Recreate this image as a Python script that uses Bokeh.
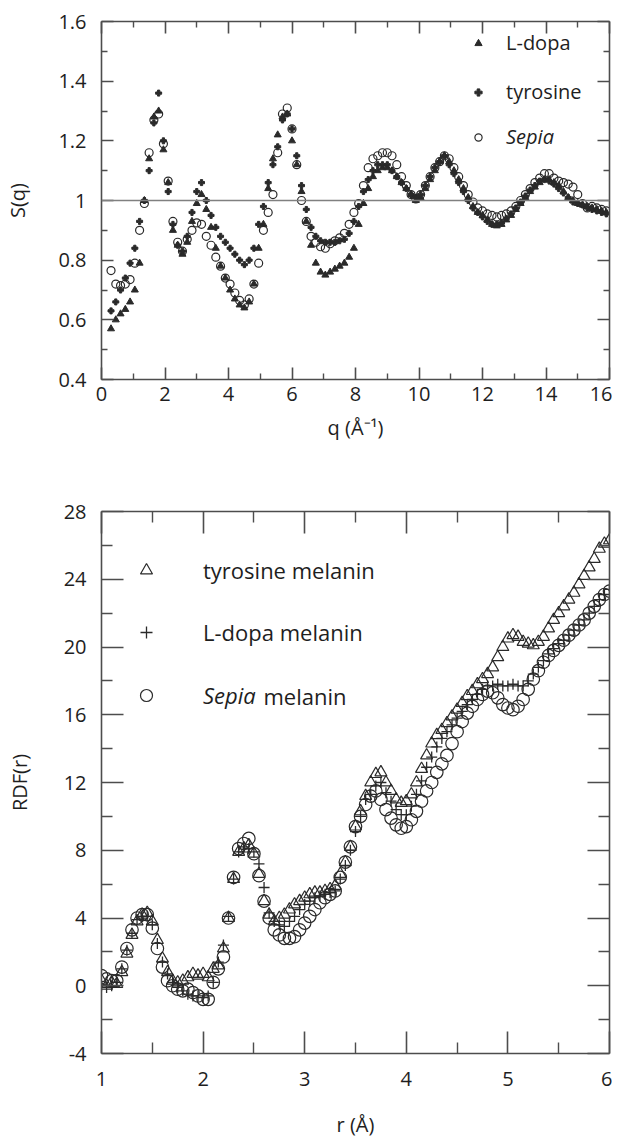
from bokeh.plotting import figure
from bokeh.models import (LinearAxis, FixedTicker, Span, Legend, LegendItem, Label,
                          Range1d, CustomJSTickFormatter)
from bokeh.layouts import column
from bokeh.embed import file_html
from bokeh.resources import INLINE

FONT = "Open Sans"
INK = "#2a2a2a"
AXC = "#4d4d4d"
TXT = "#1e1e1e"
FS = "20px"
FS_LEG2 = "22px"

# ---------------- top chart: structure factor S(q) ----------------
q = [0.30, 0.45, 0.60, 0.75, 0.90, 1.05, 1.20, 1.35, 1.50, 1.65,
     1.80, 1.95, 2.10, 2.25, 2.40, 2.55, 2.70, 2.85, 3.00, 3.15,
     3.30, 3.45, 3.60, 3.75, 3.90, 4.05, 4.20, 4.35, 4.50, 4.65,
     4.80, 4.95, 5.10, 5.25, 5.40, 5.55, 5.70, 5.85, 6.00, 6.15,
     6.30, 6.45, 6.60, 6.75, 6.90, 7.05, 7.20, 7.35, 7.50, 7.65,
     7.80, 7.95, 8.10, 8.25, 8.40, 8.55, 8.70, 8.85, 9.00, 9.15,
     9.30, 9.45, 9.60, 9.75, 9.90, 10.05, 10.20, 10.35, 10.50, 10.65,
     10.80, 10.95, 11.10, 11.25, 11.40, 11.55, 11.70, 11.85, 12.00, 12.15,
     12.30, 12.45, 12.60, 12.75, 12.90, 13.05, 13.20, 13.35, 13.50, 13.65,
     13.80, 13.95, 14.10, 14.25, 14.40, 14.55, 14.70, 14.85, 15.00, 15.15,
     15.30, 15.45, 15.60, 15.75, 15.90]

s_ldopa = [0.57, 0.60, 0.62, 0.635, 0.66, 0.70, 0.79, 1.00, 1.14, 1.28,
           1.30, 1.17, 1.06, 0.90, 0.85, 0.82, 0.86, 0.93, 0.99, 1.02,
           0.97, 0.91, 0.84, 0.78, 0.74, 0.70, 0.67, 0.65, 0.64, 0.66,
           0.72, 0.84, 0.92, 1.04, 1.14, 1.22, 1.28, 1.29, 1.20, 1.12,
           1.03, 0.93, 0.85, 0.79, 0.76, 0.75, 0.76, 0.77, 0.78, 0.79,
           0.81, 0.84, 0.92, 0.99, 1.04, 1.08, 1.10, 1.11, 1.11, 1.10,
           1.08, 1.06, 1.04, 1.02, 1.00, 1.01, 1.04, 1.07, 1.10, 1.13,
           1.15, 1.13, 1.10, 1.07, 1.04, 1.01, 0.98, 0.96, 0.95, 0.935,
           0.92, 0.915, 0.92, 0.935, 0.95, 0.97, 0.99, 1.01, 1.03, 1.045,
           1.06, 1.07, 1.07, 1.06, 1.05, 1.03, 1.01, 1.00, 0.99, 0.985,
           0.98, 0.975, 0.97, 0.965, 0.96]

s_tyrosine = [0.63, 0.66, 0.70, 0.74, 0.79, 0.84, 0.93, 1.00, 1.10, 1.26,
              1.36, 1.20, 1.03, 0.92, 0.85, 0.83, 0.88, 0.96, 1.03, 1.06,
              1.00, 0.95, 0.91, 0.88, 0.86, 0.84, 0.82, 0.80, 0.785, 0.80,
              0.84, 0.92, 0.98, 1.06, 1.12, 1.18, 1.27, 1.29, 1.24, 1.15,
              1.05, 0.97, 0.91, 0.88, 0.865, 0.86, 0.86, 0.86, 0.865, 0.87,
              0.89, 0.93, 0.98, 1.03, 1.07, 1.10, 1.12, 1.12, 1.12, 1.10,
              1.08, 1.06, 1.04, 1.02, 1.01, 1.02, 1.05, 1.08, 1.11, 1.13,
              1.15, 1.12, 1.09, 1.06, 1.03, 1.00, 0.975, 0.96, 0.945, 0.93,
              0.92, 0.92, 0.925, 0.94, 0.955, 0.975, 0.995, 1.015, 1.035, 1.05,
              1.065, 1.07, 1.065, 1.055, 1.04, 1.025, 1.01, 0.995, 0.99, 0.985,
              0.975, 0.97, 0.965, 0.96, 0.955]

s_sepia = [0.765, 0.72, 0.715, 0.72, 0.735, 0.79, 0.90, 0.99, 1.16, 1.27,
           1.29, 1.19, 1.065, 0.93, 0.86, 0.83, 0.87, 0.90, 0.925, 0.92,
           0.88, 0.85, 0.81, 0.78, 0.74, 0.72, 0.69, 0.665, 0.65, 0.67,
           0.72, 0.79, 0.90, 0.96, 1.02, 1.16, 1.29, 1.31, 1.24, 1.12,
           1.00, 0.93, 0.88, 0.86, 0.845, 0.84, 0.855, 0.865, 0.875, 0.89,
           0.92, 0.96, 0.99, 1.05, 1.11, 1.14, 1.15, 1.16, 1.16, 1.15,
           1.12, 1.08, 1.05, 1.02, 1.005, 1.02, 1.05, 1.08, 1.11, 1.13,
           1.15, 1.14, 1.11, 1.08, 1.05, 1.02, 0.995, 0.975, 0.965, 0.955,
           0.95, 0.945, 0.95, 0.955, 0.965, 0.98, 1.00, 1.02, 1.04, 1.06,
           1.075, 1.09, 1.09, 1.075, 1.065, 1.06, 1.055, 1.045, 1.02, 0.99,
           0.975, 0.98, 0.975, 0.97, 0.965]

q_ticks = [0, 2, 4, 6, 8, 10, 12, 14, 16]
q_minor = [1, 3, 5, 7, 9, 11, 13, 15]
s_ticks = [0.4, 0.6, 0.8, 1.0, 1.2, 1.4, 1.6]
s_minor = [0.5, 0.7, 0.9, 1.1, 1.3, 1.5]

# ---------------- bottom chart: radial distribution function ----------------
r = [1.00, 1.05, 1.10, 1.15, 1.20, 1.25, 1.30, 1.35, 1.40, 1.45,
     1.50, 1.55, 1.60, 1.65, 1.70, 1.75, 1.80, 1.85, 1.90, 1.95,
     2.00, 2.05, 2.10, 2.15, 2.20, 2.25, 2.30, 2.35, 2.40, 2.45,
     2.50, 2.55, 2.60, 2.65, 2.70, 2.75, 2.80, 2.85, 2.90, 2.95,
     3.00, 3.05, 3.10, 3.15, 3.20, 3.25, 3.30, 3.35, 3.40, 3.45,
     3.50, 3.55, 3.60, 3.65, 3.70, 3.75, 3.80, 3.85, 3.90, 3.95,
     4.00, 4.05, 4.10, 4.15, 4.20, 4.25, 4.30, 4.35, 4.40, 4.45,
     4.50, 4.55, 4.60, 4.65, 4.70, 4.75, 4.80, 4.85, 4.90, 4.95,
     5.00, 5.05, 5.10, 5.15, 5.20, 5.25, 5.30, 5.35, 5.40, 5.45,
     5.50, 5.55, 5.60, 5.65, 5.70, 5.75, 5.80, 5.85, 5.90, 5.95,
     6.00]

rdf_tyrosine = [0.3, 0.0, 0.2, 0.1, 0.8, 1.9, 3.0, 3.8, 4.2, 4.3,
                3.8, 2.7, 1.6, 0.8, 0.3, 0.2, 0.3, 0.5, 0.7, 0.6,
                0.7, 0.5, 1.0, 1.2, 2.2, 4.0, 6.3, 7.9, 8.1, 8.3,
                7.8, 6.6, 5.0, 4.2, 3.8, 4.0, 4.2, 4.5, 4.8, 5.0,
                5.2, 5.4, 5.5, 5.5, 5.6, 5.7, 5.9, 6.6, 7.3, 8.2,
                9.4, 10.3, 11.2, 12.0, 12.5, 12.6, 12.0, 11.5, 11.0, 10.8,
                10.9, 11.3, 12.0, 12.8, 13.6, 14.3, 14.8, 15.1, 15.5, 15.9,
                16.3, 16.7, 17.1, 17.4, 17.8, 18.1, 18.4, 18.8, 19.4, 20.0,
                20.5, 20.7, 20.6, 20.3, 20.2, 20.1, 20.3, 20.6, 21.1, 21.6,
                22.0, 22.4, 22.8, 23.2, 23.7, 24.2, 24.7, 25.2, 25.8, 26.1,
                26.3]

rdf_ldopa = [0.0, -0.1, 0.0, 0.2, 1.0, 2.1, 3.1, 3.9, 4.1, 4.1,
             3.6, 2.5, 1.4, 0.7, 0.2, -0.1, -0.3, -0.5, -0.6, -0.6,
             -0.7, -0.6, 0.2, 1.4, 2.4, 4.1, 6.3, 7.9, 8.2, 8.1,
             7.9, 7.2, 5.8, 4.3, 3.8, 3.6, 3.5, 3.8, 4.1, 4.5,
             4.8, 5.0, 5.2, 5.3, 5.4, 5.5, 5.6, 6.3, 7.1, 8.0,
             9.1, 10.0, 11.0, 11.3, 11.8, 12.0, 11.4, 10.9, 10.4, 10.1,
             10.1, 10.6, 11.3, 12.1, 12.9, 13.5, 14.1, 14.6, 15.0, 15.4,
             15.8, 16.2, 16.6, 16.9, 17.2, 17.5, 17.7, 17.7, 17.8, 17.7,
             17.7, 17.8, 17.7, 17.7, 18.0, 18.4, 18.8, 19.2, 19.6, 19.9,
             20.2, 20.4, 20.7, 21.0, 21.3, 21.6, 22.0, 22.4, 22.8, 23.1,
             23.4]

rdf_sepia = [0.6, 0.4, 0.3, 0.3, 1.1, 2.2, 3.3, 4.0, 4.2, 4.2,
             3.4, 2.2, 1.1, 0.3, 0.0, -0.2, -0.3, -0.2, -0.4, -0.6,
             -0.8, -0.8, 0.2, 1.0, 1.7, 4.0, 6.4, 8.1, 8.4, 8.7,
             7.8, 6.5, 5.0, 4.0, 3.3, 3.0, 2.8, 2.8, 2.9, 3.3,
             3.7, 4.1, 4.5, 4.9, 5.2, 5.4, 5.6, 6.4, 7.3, 8.2,
             9.4, 10.0, 10.7, 11.2, 11.5, 11.0, 10.4, 9.9, 9.5, 9.3,
             9.4, 9.8, 10.3, 10.9, 11.5, 12.0, 12.6, 13.1, 13.6, 14.3,
             15.0, 15.6, 16.1, 16.5, 16.9, 17.2, 17.4, 17.3, 17.0, 16.6,
             16.4, 16.3, 16.5, 16.9, 17.5, 18.1, 18.6, 19.1, 19.5, 19.8,
             20.1, 20.4, 20.7, 21.0, 21.3, 21.6, 22.0, 22.4, 22.8, 23.1,
             23.3]

r_ticks = [1, 2, 3, 4, 5, 6]
r_minor = [1.5, 2.5, 3.5, 4.5, 5.5]
g_ticks = [-4, 0, 4, 8, 12, 16, 20, 24, 28]
g_minor = [-2, 2, 6, 10, 14, 18, 22, 26]


def style_axis(ax, maj, mnr):
    ax.axis_line_color = AXC
    ax.axis_line_width = 1.6
    ax.major_tick_line_color = AXC
    ax.major_tick_line_width = 1.6
    ax.minor_tick_line_color = AXC
    ax.minor_tick_line_width = 1.4
    ax.major_tick_in = maj
    ax.major_tick_out = 0
    ax.minor_tick_in = mnr
    ax.minor_tick_out = 0
    ax.major_label_text_font = FONT
    ax.major_label_text_font_size = FS
    ax.major_label_text_color = TXT
    ax.axis_label_text_font = FONT
    ax.axis_label_text_font_size = FS
    ax.axis_label_text_font_style = "normal"
    ax.axis_label_text_color = TXT


def mirror(p, xt, xm, yt, ym, maj, mnr):
    blank = CustomJSTickFormatter(code="return '';")
    top = LinearAxis(ticker=FixedTicker(ticks=xt, minor_ticks=xm), formatter=blank,
                     major_label_standoff=0)
    right = LinearAxis(ticker=FixedTicker(ticks=yt, minor_ticks=ym), formatter=blank,
                       major_label_standoff=0)
    style_axis(top, maj, mnr)
    style_axis(right, maj, mnr)
    top.major_label_text_font_size = "0px"
    right.major_label_text_font_size = "0px"
    p.add_layout(top, "above")
    p.add_layout(right, "right")


def base_fig(h, xr, yr, bt, bb):
    p = figure(width=612, height=h, x_range=Range1d(*xr), y_range=Range1d(*yr),
               output_backend="svg", toolbar_location=None,
               min_border_left=101, min_border_right=3, min_border_top=bt, min_border_bottom=bb)
    p.xgrid.visible = False
    p.ygrid.visible = False
    p.outline_line_color = None
    p.background_fill_color = "white"
    p.border_fill_color = "white"
    return p


plain = CustomJSTickFormatter(code="return (Math.round(tick*10)/10).toString();")

# ---- top figure ----
p1 = base_fig(470, (0, 16), (0.4, 1.6), 21, 91)
p1.xaxis.ticker = FixedTicker(ticks=q_ticks, minor_ticks=q_minor)
p1.yaxis.ticker = FixedTicker(ticks=s_ticks, minor_ticks=s_minor)
p1.yaxis.formatter = plain
for ax in (p1.xaxis[0], p1.yaxis[0]):
    style_axis(ax, 12, 6)
p1.xaxis.axis_label = "q (Å⁻¹)"
p1.yaxis.axis_label = "S(q)"
p1.xaxis.major_label_standoff = 7
p1.xaxis.axis_label_standoff = 10
p1.yaxis.major_label_standoff = 15
p1.yaxis.axis_label_standoff = 24
mirror(p1, q_ticks, q_minor, s_ticks, s_minor, 12, 6)

p1.add_layout(Span(location=1.0, dimension="width", line_color="#808080", line_width=1.6))

rs1 = p1.scatter(q, s_sepia, marker="circle", size=8, fill_color=None,
                 line_color=INK, line_width=1.2)
rl1 = p1.scatter(q, s_ldopa, marker="triangle", size=7, fill_color=INK,
                 line_color=INK, line_width=1)
rt1 = p1.scatter(q, s_tyrosine, marker="plus", size=6, fill_color=INK,
                 line_color=INK, line_width=1)

leg_common = dict(orientation="vertical", padding=0, margin=0,
                  border_line_color=None, background_fill_alpha=0,
                  label_text_font=FONT, label_text_color=TXT)
leg1a = Legend(items=[LegendItem(label="L-dopa", renderers=[rl1]),
                      LegendItem(label="tyrosine", renderers=[rt1])],
               location=(368, 274), spacing=22, glyph_width=18, glyph_height=24,
               label_height=24, label_standoff=19, label_text_font_size=FS, **leg_common)
leg1b = Legend(items=[LegendItem(label="Sepia", renderers=[rs1])],
               location=(368, 229), spacing=22, glyph_width=18, glyph_height=24,
               label_height=24, label_standoff=19, label_text_font_size=FS,
               label_text_font_style="italic", **leg_common)
p1.add_layout(leg1a)
p1.add_layout(leg1b)

# ---- bottom figure ----
p2 = base_fig(670, (1, 6), (-4, 28), 41, 82)
p2.xaxis.ticker = FixedTicker(ticks=r_ticks, minor_ticks=r_minor)
p2.yaxis.ticker = FixedTicker(ticks=g_ticks, minor_ticks=g_minor)
p2.yaxis.formatter = CustomJSTickFormatter(code="return tick.toString();")
for ax in (p2.xaxis[0], p2.yaxis[0]):
    style_axis(ax, 22, 11)
p2.xaxis.axis_label = "r (Å)"
p2.yaxis.axis_label = "RDF(r)"
p2.xaxis.major_label_standoff = 18
p2.xaxis.axis_label_standoff = 22
p2.yaxis.major_label_standoff = 15
p2.yaxis.axis_label_standoff = 28
mirror(p2, r_ticks, r_minor, g_ticks, g_minor, 22, 11)

rt2 = p2.scatter(r, rdf_tyrosine, marker="triangle", size=12, fill_color=None,
                 line_color=INK, line_width=1.2)
rl2 = p2.scatter(r, rdf_ldopa, marker="cross", size=11, line_color=INK, line_width=1.3)
rs2 = p2.scatter(r, rdf_sepia, marker="circle", size=12.5, fill_color=None,
                 line_color=INK, line_width=1.2)

leg2a = Legend(items=[LegendItem(label="tyrosine melanin", renderers=[rt2]),
                      LegendItem(label="L-dopa melanin", renderers=[rl2])],
               location=(30, 406), spacing=32, glyph_width=30, glyph_height=30,
               label_height=30, label_standoff=42, label_text_font_size=FS_LEG2, **leg_common)
leg2b = Legend(items=[LegendItem(label="Sepia", renderers=[rs2])],
               location=(30, 343), spacing=32, glyph_width=30, glyph_height=30,
               label_height=30, label_standoff=42, label_text_font_size=FS_LEG2,
               label_text_font_style="italic", **leg_common)
p2.add_layout(leg2a)
p2.add_layout(leg2b)
p2.add_layout(Label(x=162, y=358, x_units="screen", y_units="screen", text="melanin",
                    text_font=FONT, text_font_size=FS_LEG2, text_color=TXT,
                    text_baseline="middle"))

layout = column(p1, p2)
open("out.html", "w").write(file_html(layout, INLINE))
